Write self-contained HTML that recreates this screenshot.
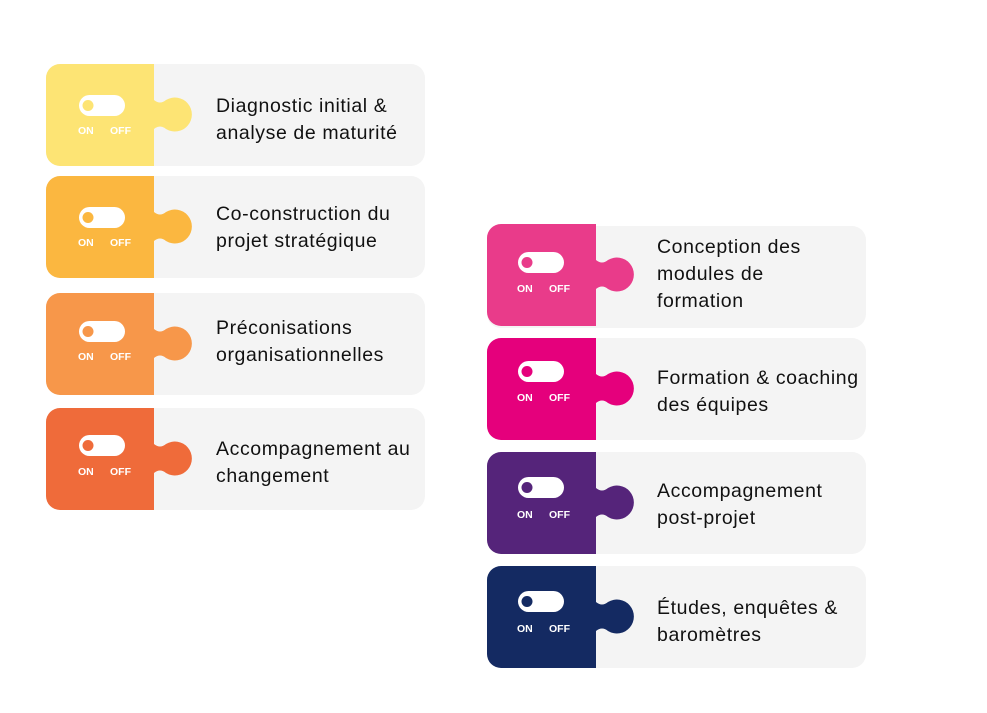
<!DOCTYPE html>
<html><head><meta charset="utf-8"><style>
body{margin:0;background:#fff;width:987px;height:713px;overflow:hidden;position:relative;font-family:"Liberation Sans",sans-serif}
svg{position:absolute;left:0;top:0}
.t{position:absolute;font-size:19.5px;line-height:27px;color:#111;white-space:nowrap;letter-spacing:0.6px}
</style></head><body>
<svg width="987" height="713" viewBox="0 0 987 713">
<defs>
<g id="card">
 <rect x="0" y="0" width="379" height="102" rx="14" fill="#f4f4f4"/>
</g>
</defs>
<g font-family="Liberation Sans, sans-serif" font-weight="bold" font-size="10.5" fill="#fff">
<g transform="translate(46,64)"><use href="#card"/><path d="M14,0H108V36Q114,41 120,36A17,17 0 1 1 120,65Q114,60 108,65V102H14A14,14 0 0 1 0,88V14A14,14 0 0 1 14,0Z" fill="#FDE474"/>
<rect x="33" y="31" width="46" height="21" rx="10.5" fill="#fff"/><circle cx="42" cy="41.5" r="5.5" fill="#FDE474"/><text x="32" y="70">ON</text><text x="64" y="70">OFF</text></g>
<g transform="translate(46,176)"><use href="#card"/><path d="M14,0H108V36Q114,41 120,36A17,17 0 1 1 120,65Q114,60 108,65V102H14A14,14 0 0 1 0,88V14A14,14 0 0 1 14,0Z" fill="#FBB740"/>
<rect x="33" y="31" width="46" height="21" rx="10.5" fill="#fff"/><circle cx="42" cy="41.5" r="5.5" fill="#FBB740"/><text x="32" y="70">ON</text><text x="64" y="70">OFF</text></g>
<g transform="translate(46,293)"><use href="#card"/><path d="M14,0H108V36Q114,41 120,36A17,17 0 1 1 120,65Q114,60 108,65V102H14A14,14 0 0 1 0,88V14A14,14 0 0 1 14,0Z" fill="#F7974A"/>
<rect x="33" y="28" width="46" height="21" rx="10.5" fill="#fff"/><circle cx="42" cy="38.5" r="5.5" fill="#F7974A"/><text x="32" y="67">ON</text><text x="64" y="67">OFF</text></g>
<g transform="translate(46,408)"><use href="#card"/><path d="M14,0H108V36Q114,41 120,36A17,17 0 1 1 120,65Q114,60 108,65V102H14A14,14 0 0 1 0,88V14A14,14 0 0 1 14,0Z" fill="#EF6B3A"/>
<rect x="33" y="27" width="46" height="21" rx="10.5" fill="#fff"/><circle cx="42" cy="37.5" r="5.5" fill="#EF6B3A"/><text x="32" y="67">ON</text><text x="64" y="67">OFF</text></g>
<g transform="translate(487,224)"><rect x="0" y="2" width="379" height="102" rx="14" fill="#f4f4f4"/><path d="M14,0H109V36Q115,41 121,36A17,17 0 1 1 121,65Q115,60 109,65V102H14A14,14 0 0 1 0,88V14A14,14 0 0 1 14,0Z" fill="#E93B8A"/>
<rect x="31" y="28" width="46" height="21" rx="10.5" fill="#fff"/><circle cx="40" cy="38.5" r="5.5" fill="#E93B8A"/><text x="30" y="68">ON</text><text x="62" y="68">OFF</text></g>
<g transform="translate(487,338)"><use href="#card"/><path d="M14,0H109V36Q115,41 121,36A17,17 0 1 1 121,65Q115,60 109,65V102H14A14,14 0 0 1 0,88V14A14,14 0 0 1 14,0Z" fill="#E5007C"/>
<rect x="31" y="23" width="46" height="21" rx="10.5" fill="#fff"/><circle cx="40" cy="33.5" r="5.5" fill="#E5007C"/><text x="30" y="63">ON</text><text x="62" y="63">OFF</text></g>
<g transform="translate(487,452)"><use href="#card"/><path d="M14,0H109V36Q115,41 121,36A17,17 0 1 1 121,65Q115,60 109,65V102H14A14,14 0 0 1 0,88V14A14,14 0 0 1 14,0Z" fill="#55247A"/>
<rect x="31" y="25" width="46" height="21" rx="10.5" fill="#fff"/><circle cx="40" cy="35.5" r="5.5" fill="#55247A"/><text x="30" y="66">ON</text><text x="62" y="66">OFF</text></g>
<g transform="translate(487,566)"><use href="#card"/><path d="M14,0H109V36Q115,41 121,36A17,17 0 1 1 121,65Q115,60 109,65V102H14A14,14 0 0 1 0,88V14A14,14 0 0 1 14,0Z" fill="#142A62"/>
<rect x="31" y="25" width="46" height="21" rx="10.5" fill="#fff"/><circle cx="40" cy="35.5" r="5.5" fill="#142A62"/><text x="30" y="66">ON</text><text x="62" y="66">OFF</text></g>
</g>
</svg>
<div class="t" style="left:216px;top:93px">Diagnostic initial &amp;<br>analyse de maturité</div>
<div class="t" style="left:216px;top:201px">Co-construction du<br>projet stratégique</div>
<div class="t" style="left:216px;top:315px">Préconisations<br>organisationnelles</div>
<div class="t" style="left:216px;top:436px">Accompagnement au<br>changement</div>
<div class="t" style="left:657px;top:234px">Conception des<br>modules de<br>formation</div>
<div class="t" style="left:657px;top:365px">Formation &amp; coaching<br>des équipes</div>
<div class="t" style="left:657px;top:478px">Accompagnement<br>post-projet</div>
<div class="t" style="left:657px;top:595px">Études, enquêtes &amp;<br>baromètres</div>
</body></html>
